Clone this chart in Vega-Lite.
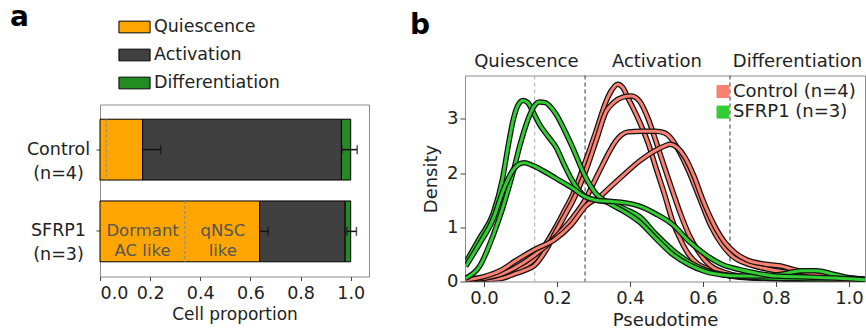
{
  "$schema": "https://vega.github.io/schema/vega-lite/v6.json",
  "padding": {"left": 10, "top": 3.5, "right": 0, "bottom": 0},
  "spacing": 39,
  "config": {
    "font": "DejaVu Sans",
    "view": {"stroke": "#8c8c8c", "strokeWidth": 1},
    "axis": {"grid": false, "domain": false, "tickColor": "#444", "tickSize": 4, "labelColor": "#222", "titleColor": "#222", "labelFontSize": 17.5, "titleFontSize": 17.5, "titleFontWeight": "normal", "labelFont": "DejaVu Sans", "titleFont": "DejaVu Sans"},
    "legend": {"labelFont": "DejaVu Sans", "labelColor": "#222"},
    "title": {"font": "DejaVu Sans"}
  },
  "resolve": {"scale": {"color": "independent"}, "legend": {"color": "independent"}},
  "datasets": {
    "bars": [
      {"group": "Control (n=4)", "stage": "Quiescence", "start": 0, "end": 0.17},
      {"group": "Control (n=4)", "stage": "Activation", "start": 0.17, "end": 0.963},
      {"group": "Control (n=4)", "stage": "Differentiation", "start": 0.963, "end": 1.0},
      {"group": "SFRP1 (n=3)", "stage": "Quiescence", "start": 0, "end": 0.637},
      {"group": "SFRP1 (n=3)", "stage": "Activation", "start": 0.637, "end": 0.978},
      {"group": "SFRP1 (n=3)", "stage": "Differentiation", "start": 0.978, "end": 1.0}
    ],
    "dashes": [
      {"group": "Control (n=4)", "x": 0.025},
      {"group": "SFRP1 (n=3)", "x": 0.338}
    ],
    "subtypes": [
      {"group": "SFRP1 (n=3)", "x": 0.17, "label": "Dormant\nAC like"},
      {"group": "SFRP1 (n=3)", "x": 0.49, "label": "qNSC\nlike"}
    ],
    "errs": [
      {"group": "Control (n=4)", "lo": 0.17, "hi": 0.242},
      {"group": "Control (n=4)", "lo": 0.965, "hi": 1.026},
      {"group": "SFRP1 (n=3)", "lo": 0.637, "hi": 0.671},
      {"group": "SFRP1 (n=3)", "lo": 0.985, "hi": 1.023}
    ],
    "caps": [
      {"group": "Control (n=4)", "x": 0.242},
      {"group": "Control (n=4)", "x": 0.965},
      {"group": "Control (n=4)", "x": 1.026},
      {"group": "SFRP1 (n=3)", "x": 0.671},
      {"group": "SFRP1 (n=3)", "x": 0.985},
      {"group": "SFRP1 (n=3)", "x": 1.023}
    ],
    "bounds": [
      {"kind": "sub", "x": 0.139},
      {"kind": "main", "x": 0.277},
      {"kind": "main", "x": 0.674}
    ],
    "sections": [
      {"label": "Quiescence", "x": 0.116},
      {"label": "Activation", "x": 0.474},
      {"label": "Differentiation", "x": 0.859}
    ],
    "curves": [
      {"c": "R1", "g": "Control (n=4)", "x": -0.05, "y": 0.02},
      {"c": "R1", "g": "Control (n=4)", "x": 0.0, "y": 0.04},
      {"c": "R1", "g": "Control (n=4)", "x": 0.05, "y": 0.09},
      {"c": "R1", "g": "Control (n=4)", "x": 0.084, "y": 0.18},
      {"c": "R1", "g": "Control (n=4)", "x": 0.11, "y": 0.27},
      {"c": "R1", "g": "Control (n=4)", "x": 0.139, "y": 0.42},
      {"c": "R1", "g": "Control (n=4)", "x": 0.17, "y": 0.7},
      {"c": "R1", "g": "Control (n=4)", "x": 0.198, "y": 1.02},
      {"c": "R1", "g": "Control (n=4)", "x": 0.22, "y": 1.3},
      {"c": "R1", "g": "Control (n=4)", "x": 0.243, "y": 1.6},
      {"c": "R1", "g": "Control (n=4)", "x": 0.275, "y": 2.16},
      {"c": "R1", "g": "Control (n=4)", "x": 0.307, "y": 2.77},
      {"c": "R1", "g": "Control (n=4)", "x": 0.335, "y": 3.33},
      {"c": "R1", "g": "Control (n=4)", "x": 0.35, "y": 3.53},
      {"c": "R1", "g": "Control (n=4)", "x": 0.366, "y": 3.64},
      {"c": "R1", "g": "Control (n=4)", "x": 0.38, "y": 3.58},
      {"c": "R1", "g": "Control (n=4)", "x": 0.395, "y": 3.38},
      {"c": "R1", "g": "Control (n=4)", "x": 0.41, "y": 3.18},
      {"c": "R1", "g": "Control (n=4)", "x": 0.426, "y": 2.95},
      {"c": "R1", "g": "Control (n=4)", "x": 0.45, "y": 2.55},
      {"c": "R1", "g": "Control (n=4)", "x": 0.471, "y": 2.1},
      {"c": "R1", "g": "Control (n=4)", "x": 0.495, "y": 1.6},
      {"c": "R1", "g": "Control (n=4)", "x": 0.517, "y": 1.11},
      {"c": "R1", "g": "Control (n=4)", "x": 0.54, "y": 0.75},
      {"c": "R1", "g": "Control (n=4)", "x": 0.562, "y": 0.49},
      {"c": "R1", "g": "Control (n=4)", "x": 0.585, "y": 0.33},
      {"c": "R1", "g": "Control (n=4)", "x": 0.608, "y": 0.25},
      {"c": "R1", "g": "Control (n=4)", "x": 0.654, "y": 0.13},
      {"c": "R1", "g": "Control (n=4)", "x": 0.7, "y": 0.08},
      {"c": "R1", "g": "Control (n=4)", "x": 0.8, "y": 0.05},
      {"c": "R1", "g": "Control (n=4)", "x": 0.9, "y": 0.03},
      {"c": "R1", "g": "Control (n=4)", "x": 1.0, "y": 0.02},
      {"c": "R1", "g": "Control (n=4)", "x": 1.044, "y": 0.01},
      {"c": "R2", "g": "Control (n=4)", "x": -0.05, "y": 0.01},
      {"c": "R2", "g": "Control (n=4)", "x": 0.0, "y": 0.03},
      {"c": "R2", "g": "Control (n=4)", "x": 0.05, "y": 0.06},
      {"c": "R2", "g": "Control (n=4)", "x": 0.084, "y": 0.14},
      {"c": "R2", "g": "Control (n=4)", "x": 0.11, "y": 0.2},
      {"c": "R2", "g": "Control (n=4)", "x": 0.139, "y": 0.3},
      {"c": "R2", "g": "Control (n=4)", "x": 0.17, "y": 0.58},
      {"c": "R2", "g": "Control (n=4)", "x": 0.198, "y": 0.93},
      {"c": "R2", "g": "Control (n=4)", "x": 0.22, "y": 1.2},
      {"c": "R2", "g": "Control (n=4)", "x": 0.243, "y": 1.48},
      {"c": "R2", "g": "Control (n=4)", "x": 0.275, "y": 1.97},
      {"c": "R2", "g": "Control (n=4)", "x": 0.307, "y": 2.59},
      {"c": "R2", "g": "Control (n=4)", "x": 0.335, "y": 3.14},
      {"c": "R2", "g": "Control (n=4)", "x": 0.355, "y": 3.3},
      {"c": "R2", "g": "Control (n=4)", "x": 0.38, "y": 3.4},
      {"c": "R2", "g": "Control (n=4)", "x": 0.403, "y": 3.42},
      {"c": "R2", "g": "Control (n=4)", "x": 0.426, "y": 3.33},
      {"c": "R2", "g": "Control (n=4)", "x": 0.45, "y": 3.0},
      {"c": "R2", "g": "Control (n=4)", "x": 0.471, "y": 2.59},
      {"c": "R2", "g": "Control (n=4)", "x": 0.495, "y": 2.1},
      {"c": "R2", "g": "Control (n=4)", "x": 0.517, "y": 1.66},
      {"c": "R2", "g": "Control (n=4)", "x": 0.54, "y": 1.22},
      {"c": "R2", "g": "Control (n=4)", "x": 0.562, "y": 0.86},
      {"c": "R2", "g": "Control (n=4)", "x": 0.585, "y": 0.58},
      {"c": "R2", "g": "Control (n=4)", "x": 0.608, "y": 0.37},
      {"c": "R2", "g": "Control (n=4)", "x": 0.63, "y": 0.25},
      {"c": "R2", "g": "Control (n=4)", "x": 0.654, "y": 0.18},
      {"c": "R2", "g": "Control (n=4)", "x": 0.7, "y": 0.1},
      {"c": "R2", "g": "Control (n=4)", "x": 0.77, "y": 0.06},
      {"c": "R2", "g": "Control (n=4)", "x": 0.85, "y": 0.04},
      {"c": "R2", "g": "Control (n=4)", "x": 1.0, "y": 0.02},
      {"c": "R2", "g": "Control (n=4)", "x": 1.044, "y": 0.01},
      {"c": "R3", "g": "Control (n=4)", "x": -0.05, "y": 0.02},
      {"c": "R3", "g": "Control (n=4)", "x": 0.0, "y": 0.06},
      {"c": "R3", "g": "Control (n=4)", "x": 0.05, "y": 0.14},
      {"c": "R3", "g": "Control (n=4)", "x": 0.084, "y": 0.25},
      {"c": "R3", "g": "Control (n=4)", "x": 0.139, "y": 0.49},
      {"c": "R3", "g": "Control (n=4)", "x": 0.193, "y": 0.8},
      {"c": "R3", "g": "Control (n=4)", "x": 0.24, "y": 1.15},
      {"c": "R3", "g": "Control (n=4)", "x": 0.275, "y": 1.48},
      {"c": "R3", "g": "Control (n=4)", "x": 0.31, "y": 1.95},
      {"c": "R3", "g": "Control (n=4)", "x": 0.344, "y": 2.4},
      {"c": "R3", "g": "Control (n=4)", "x": 0.36, "y": 2.58},
      {"c": "R3", "g": "Control (n=4)", "x": 0.376, "y": 2.7},
      {"c": "R3", "g": "Control (n=4)", "x": 0.395, "y": 2.76},
      {"c": "R3", "g": "Control (n=4)", "x": 0.43, "y": 2.77},
      {"c": "R3", "g": "Control (n=4)", "x": 0.47, "y": 2.77},
      {"c": "R3", "g": "Control (n=4)", "x": 0.495, "y": 2.74},
      {"c": "R3", "g": "Control (n=4)", "x": 0.515, "y": 2.62},
      {"c": "R3", "g": "Control (n=4)", "x": 0.535, "y": 2.4},
      {"c": "R3", "g": "Control (n=4)", "x": 0.56, "y": 2.05},
      {"c": "R3", "g": "Control (n=4)", "x": 0.59, "y": 1.55},
      {"c": "R3", "g": "Control (n=4)", "x": 0.62, "y": 1.05},
      {"c": "R3", "g": "Control (n=4)", "x": 0.65, "y": 0.7},
      {"c": "R3", "g": "Control (n=4)", "x": 0.68, "y": 0.47},
      {"c": "R3", "g": "Control (n=4)", "x": 0.72, "y": 0.33},
      {"c": "R3", "g": "Control (n=4)", "x": 0.77, "y": 0.24},
      {"c": "R3", "g": "Control (n=4)", "x": 0.84, "y": 0.16},
      {"c": "R3", "g": "Control (n=4)", "x": 0.9, "y": 0.11},
      {"c": "R3", "g": "Control (n=4)", "x": 1.0, "y": 0.06},
      {"c": "R3", "g": "Control (n=4)", "x": 1.044, "y": 0.04},
      {"c": "R4", "g": "Control (n=4)", "x": -0.05, "y": 0.03},
      {"c": "R4", "g": "Control (n=4)", "x": 0.0, "y": 0.09},
      {"c": "R4", "g": "Control (n=4)", "x": 0.05, "y": 0.22},
      {"c": "R4", "g": "Control (n=4)", "x": 0.084, "y": 0.37},
      {"c": "R4", "g": "Control (n=4)", "x": 0.139, "y": 0.59},
      {"c": "R4", "g": "Control (n=4)", "x": 0.193, "y": 0.77},
      {"c": "R4", "g": "Control (n=4)", "x": 0.24, "y": 1.05},
      {"c": "R4", "g": "Control (n=4)", "x": 0.28, "y": 1.4},
      {"c": "R4", "g": "Control (n=4)", "x": 0.32, "y": 1.58},
      {"c": "R4", "g": "Control (n=4)", "x": 0.344, "y": 1.73},
      {"c": "R4", "g": "Control (n=4)", "x": 0.38, "y": 1.95},
      {"c": "R4", "g": "Control (n=4)", "x": 0.426, "y": 2.22},
      {"c": "R4", "g": "Control (n=4)", "x": 0.47, "y": 2.42},
      {"c": "R4", "g": "Control (n=4)", "x": 0.495, "y": 2.5},
      {"c": "R4", "g": "Control (n=4)", "x": 0.51, "y": 2.53},
      {"c": "R4", "g": "Control (n=4)", "x": 0.53, "y": 2.47},
      {"c": "R4", "g": "Control (n=4)", "x": 0.55, "y": 2.3},
      {"c": "R4", "g": "Control (n=4)", "x": 0.575, "y": 1.95},
      {"c": "R4", "g": "Control (n=4)", "x": 0.6, "y": 1.5},
      {"c": "R4", "g": "Control (n=4)", "x": 0.63, "y": 1.05},
      {"c": "R4", "g": "Control (n=4)", "x": 0.66, "y": 0.72},
      {"c": "R4", "g": "Control (n=4)", "x": 0.69, "y": 0.52},
      {"c": "R4", "g": "Control (n=4)", "x": 0.72, "y": 0.4},
      {"c": "R4", "g": "Control (n=4)", "x": 0.77, "y": 0.32},
      {"c": "R4", "g": "Control (n=4)", "x": 0.81, "y": 0.29},
      {"c": "R4", "g": "Control (n=4)", "x": 0.85, "y": 0.22},
      {"c": "R4", "g": "Control (n=4)", "x": 0.9, "y": 0.14},
      {"c": "R4", "g": "Control (n=4)", "x": 0.95, "y": 0.1},
      {"c": "R4", "g": "Control (n=4)", "x": 1.0, "y": 0.07},
      {"c": "R4", "g": "Control (n=4)", "x": 1.044, "y": 0.04},
      {"c": "G1", "g": "SFRP1 (n=3)", "x": -0.05, "y": 0.35},
      {"c": "G1", "g": "SFRP1 (n=3)", "x": -0.012, "y": 0.8},
      {"c": "G1", "g": "SFRP1 (n=3)", "x": 0.025, "y": 1.25},
      {"c": "G1", "g": "SFRP1 (n=3)", "x": 0.051, "y": 1.9},
      {"c": "G1", "g": "SFRP1 (n=3)", "x": 0.065, "y": 2.45},
      {"c": "G1", "g": "SFRP1 (n=3)", "x": 0.079, "y": 2.95},
      {"c": "G1", "g": "SFRP1 (n=3)", "x": 0.093, "y": 3.25},
      {"c": "G1", "g": "SFRP1 (n=3)", "x": 0.107, "y": 3.34},
      {"c": "G1", "g": "SFRP1 (n=3)", "x": 0.12, "y": 3.3},
      {"c": "G1", "g": "SFRP1 (n=3)", "x": 0.135, "y": 3.12},
      {"c": "G1", "g": "SFRP1 (n=3)", "x": 0.152, "y": 2.9},
      {"c": "G1", "g": "SFRP1 (n=3)", "x": 0.175, "y": 2.68},
      {"c": "G1", "g": "SFRP1 (n=3)", "x": 0.198, "y": 2.47},
      {"c": "G1", "g": "SFRP1 (n=3)", "x": 0.22, "y": 2.15},
      {"c": "G1", "g": "SFRP1 (n=3)", "x": 0.243, "y": 1.85},
      {"c": "G1", "g": "SFRP1 (n=3)", "x": 0.275, "y": 1.58},
      {"c": "G1", "g": "SFRP1 (n=3)", "x": 0.307, "y": 1.5},
      {"c": "G1", "g": "SFRP1 (n=3)", "x": 0.344, "y": 1.46},
      {"c": "G1", "g": "SFRP1 (n=3)", "x": 0.389, "y": 1.33},
      {"c": "G1", "g": "SFRP1 (n=3)", "x": 0.426, "y": 1.2},
      {"c": "G1", "g": "SFRP1 (n=3)", "x": 0.47, "y": 0.88},
      {"c": "G1", "g": "SFRP1 (n=3)", "x": 0.517, "y": 0.58},
      {"c": "G1", "g": "SFRP1 (n=3)", "x": 0.562, "y": 0.36},
      {"c": "G1", "g": "SFRP1 (n=3)", "x": 0.608, "y": 0.21},
      {"c": "G1", "g": "SFRP1 (n=3)", "x": 0.654, "y": 0.13},
      {"c": "G1", "g": "SFRP1 (n=3)", "x": 0.7, "y": 0.09},
      {"c": "G1", "g": "SFRP1 (n=3)", "x": 0.8, "y": 0.06},
      {"c": "G1", "g": "SFRP1 (n=3)", "x": 0.9, "y": 0.05},
      {"c": "G1", "g": "SFRP1 (n=3)", "x": 1.0, "y": 0.03},
      {"c": "G1", "g": "SFRP1 (n=3)", "x": 1.044, "y": 0.02},
      {"c": "G2", "g": "SFRP1 (n=3)", "x": -0.05, "y": 0.06},
      {"c": "G2", "g": "SFRP1 (n=3)", "x": -0.012, "y": 0.28},
      {"c": "G2", "g": "SFRP1 (n=3)", "x": 0.025, "y": 0.85},
      {"c": "G2", "g": "SFRP1 (n=3)", "x": 0.051, "y": 1.35},
      {"c": "G2", "g": "SFRP1 (n=3)", "x": 0.079, "y": 2.0},
      {"c": "G2", "g": "SFRP1 (n=3)", "x": 0.1, "y": 2.55},
      {"c": "G2", "g": "SFRP1 (n=3)", "x": 0.12, "y": 2.98},
      {"c": "G2", "g": "SFRP1 (n=3)", "x": 0.136, "y": 3.22},
      {"c": "G2", "g": "SFRP1 (n=3)", "x": 0.152, "y": 3.31},
      {"c": "G2", "g": "SFRP1 (n=3)", "x": 0.168, "y": 3.3},
      {"c": "G2", "g": "SFRP1 (n=3)", "x": 0.185, "y": 3.2},
      {"c": "G2", "g": "SFRP1 (n=3)", "x": 0.198, "y": 3.08},
      {"c": "G2", "g": "SFRP1 (n=3)", "x": 0.22, "y": 2.8},
      {"c": "G2", "g": "SFRP1 (n=3)", "x": 0.243, "y": 2.47},
      {"c": "G2", "g": "SFRP1 (n=3)", "x": 0.275, "y": 1.97},
      {"c": "G2", "g": "SFRP1 (n=3)", "x": 0.307, "y": 1.62},
      {"c": "G2", "g": "SFRP1 (n=3)", "x": 0.344, "y": 1.44},
      {"c": "G2", "g": "SFRP1 (n=3)", "x": 0.389, "y": 1.27},
      {"c": "G2", "g": "SFRP1 (n=3)", "x": 0.426, "y": 1.1},
      {"c": "G2", "g": "SFRP1 (n=3)", "x": 0.47, "y": 0.8},
      {"c": "G2", "g": "SFRP1 (n=3)", "x": 0.517, "y": 0.5},
      {"c": "G2", "g": "SFRP1 (n=3)", "x": 0.562, "y": 0.31},
      {"c": "G2", "g": "SFRP1 (n=3)", "x": 0.608, "y": 0.18},
      {"c": "G2", "g": "SFRP1 (n=3)", "x": 0.654, "y": 0.12},
      {"c": "G2", "g": "SFRP1 (n=3)", "x": 0.7, "y": 0.1},
      {"c": "G2", "g": "SFRP1 (n=3)", "x": 0.76, "y": 0.1},
      {"c": "G2", "g": "SFRP1 (n=3)", "x": 0.82, "y": 0.14},
      {"c": "G2", "g": "SFRP1 (n=3)", "x": 0.87, "y": 0.2},
      {"c": "G2", "g": "SFRP1 (n=3)", "x": 0.91, "y": 0.2},
      {"c": "G2", "g": "SFRP1 (n=3)", "x": 0.96, "y": 0.13},
      {"c": "G2", "g": "SFRP1 (n=3)", "x": 1.0, "y": 0.07},
      {"c": "G2", "g": "SFRP1 (n=3)", "x": 1.044, "y": 0.03},
      {"c": "G3", "g": "SFRP1 (n=3)", "x": -0.05, "y": 0.28},
      {"c": "G3", "g": "SFRP1 (n=3)", "x": -0.012, "y": 0.7},
      {"c": "G3", "g": "SFRP1 (n=3)", "x": 0.025, "y": 1.15},
      {"c": "G3", "g": "SFRP1 (n=3)", "x": 0.051, "y": 1.65},
      {"c": "G3", "g": "SFRP1 (n=3)", "x": 0.079, "y": 2.05},
      {"c": "G3", "g": "SFRP1 (n=3)", "x": 0.095, "y": 2.16},
      {"c": "G3", "g": "SFRP1 (n=3)", "x": 0.111, "y": 2.19},
      {"c": "G3", "g": "SFRP1 (n=3)", "x": 0.13, "y": 2.15},
      {"c": "G3", "g": "SFRP1 (n=3)", "x": 0.152, "y": 2.08},
      {"c": "G3", "g": "SFRP1 (n=3)", "x": 0.198, "y": 1.9},
      {"c": "G3", "g": "SFRP1 (n=3)", "x": 0.243, "y": 1.72},
      {"c": "G3", "g": "SFRP1 (n=3)", "x": 0.275, "y": 1.57},
      {"c": "G3", "g": "SFRP1 (n=3)", "x": 0.307, "y": 1.5},
      {"c": "G3", "g": "SFRP1 (n=3)", "x": 0.344, "y": 1.48},
      {"c": "G3", "g": "SFRP1 (n=3)", "x": 0.389, "y": 1.45},
      {"c": "G3", "g": "SFRP1 (n=3)", "x": 0.426, "y": 1.39},
      {"c": "G3", "g": "SFRP1 (n=3)", "x": 0.47, "y": 1.25},
      {"c": "G3", "g": "SFRP1 (n=3)", "x": 0.517, "y": 1.05},
      {"c": "G3", "g": "SFRP1 (n=3)", "x": 0.562, "y": 0.74},
      {"c": "G3", "g": "SFRP1 (n=3)", "x": 0.608, "y": 0.49},
      {"c": "G3", "g": "SFRP1 (n=3)", "x": 0.654, "y": 0.31},
      {"c": "G3", "g": "SFRP1 (n=3)", "x": 0.7, "y": 0.22},
      {"c": "G3", "g": "SFRP1 (n=3)", "x": 0.75, "y": 0.15},
      {"c": "G3", "g": "SFRP1 (n=3)", "x": 0.8, "y": 0.1},
      {"c": "G3", "g": "SFRP1 (n=3)", "x": 0.9, "y": 0.08},
      {"c": "G3", "g": "SFRP1 (n=3)", "x": 1.0, "y": 0.05},
      {"c": "G3", "g": "SFRP1 (n=3)", "x": 1.044, "y": 0.03}
    ]
  },
  "hconcat": [
    {
      "spacing": 8,
      "resolve": {"scale": {"color": "independent"}, "legend": {"color": "independent"}},
      "vconcat": [
        {
          "width": 269,
          "height": 20,
          "view": {"stroke": null},
          "title": {"text": "a", "anchor": "start", "frame": "group", "dx": -90, "offset": -39.5, "baseline": "alphabetic", "fontSize": 28, "fontWeight": "bold", "color": "#000"},
          "data": {"name": "bars"},
          "mark": {"type": "bar", "opacity": 0},
          "encoding": {
            "x": {"field": "start", "type": "quantitative", "scale": {"domain": [0, 1.073], "nice": false, "zero": false}, "axis": null},
            "x2": {"field": "end"},
            "color": {"field": "stage", "type": "nominal", "scale": {"domain": ["Quiescence", "Activation", "Differentiation"], "range": ["#FFA500", "#404040", "#228B22"]}, "legend": {"title": null, "orient": "none", "legendX": 22, "legendY": -61, "direction": "vertical", "symbolType": "M-1.33,-0.5H1.33V0.5H-1.33Z", "symbolSize": 548, "symbolStrokeColor": "black", "symbolStrokeWidth": 1, "symbolOpacity": 1, "labelFontSize": 17.5, "labelOffset": 7, "rowPadding": 7, "labelColor": "#222", "encode": {"symbols": {"update": {"opacity": {"value": 1}, "fillOpacity": {"value": 1}, "strokeOpacity": {"value": 1}}}}}}
          }
        },
        {
          "width": 269,
          "height": 172,
          "layer": [
            {
              "data": {"name": "bars"},
              "mark": {"type": "bar", "stroke": "black", "strokeWidth": 1},
              "encoding": {
                "y": {"field": "group", "type": "nominal", "scale": {"domain": ["Control (n=4)", "SFRP1 (n=3)"], "paddingInner": 0.256, "paddingOuter": 0.18}, "axis": {"title": null, "labelExpr": "split(datum.label, ' ')", "labelAlign": "center", "labelPadding": 38, "labelLineHeight": 24, "labelBaseline": "middle", "labelFontSize": 17.5}},
                "x": {"field": "start", "type": "quantitative", "scale": {"domain": [0, 1.073], "nice": false, "zero": false}, "axis": {"title": "Cell proportion", "values": [0, 0.2, 0.4, 0.6, 0.8, 1.0], "format": ".1f", "titleFontSize": 17, "labelPadding": 4, "titlePadding": 4}},
                "x2": {"field": "end"},
                "color": {"field": "stage", "type": "nominal", "scale": {"domain": ["Quiescence", "Activation", "Differentiation"], "range": ["#FFA500", "#404040", "#228B22"]}, "legend": null}
              }
            },
            {
              "data": {"name": "dashes"},
              "mark": {"type": "rule", "strokeDash": [3, 2], "color": "#8a8a8a", "strokeWidth": 1},
              "encoding": {
                "x": {"field": "x", "type": "quantitative"},
                "y": {"field": "group", "type": "nominal", "bandPosition": 0},
                "y2": {"field": "group", "bandPosition": 1}
              }
            },
            {
              "data": {"name": "subtypes"},
              "mark": {"type": "text", "lineBreak": "\n", "fontSize": 16.5, "color": "#555555", "align": "center", "baseline": "middle", "lineHeight": 20},
              "encoding": {
                "x": {"field": "x", "type": "quantitative"},
                "y": {"field": "group", "type": "nominal"},
                "text": {"field": "label"}
              }
            },
            {
              "data": {"name": "errs"},
              "mark": {"type": "rule", "color": "#111", "strokeWidth": 1.5},
              "encoding": {
                "x": {"field": "lo", "type": "quantitative"},
                "x2": {"field": "hi"},
                "y": {"field": "group", "type": "nominal"}
              }
            },
            {
              "data": {"name": "caps"},
              "mark": {"type": "tick", "orient": "vertical", "color": "#111", "thickness": 1.5, "size": 9},
              "encoding": {
                "x": {"field": "x", "type": "quantitative"},
                "y": {"field": "group", "type": "nominal"}
              }
            }
          ]
        }
      ]
    },
    {
      "width": 400,
      "height": 206,
      "title": {"text": "b", "anchor": "start", "frame": "group", "dx": -55, "offset": -8.5, "baseline": "alphabetic", "fontSize": 28, "fontWeight": "bold", "color": "#000"},
      "data": {"name": "curves"},
      "layer": [
        {
          "data": {"name": "bounds"},
          "transform": [{"filter": "datum.kind == 'sub'"}],
          "mark": {"type": "rule", "strokeDash": [4, 3], "color": "#aaaaaa", "strokeWidth": 1},
          "encoding": {
            "x": {"field": "x", "type": "quantitative", "scale": {"domain": [-0.052, 1.044], "nice": false, "zero": false}, "axis": {"title": "Pseudotime", "values": [0, 0.2, 0.4, 0.6, 0.8, 1.0], "format": ".1f", "labelFontSize": 18, "titleFontSize": 18, "tickSize": 5, "labelPadding": 3, "titlePadding": 4}}
          }
        },
        {
          "data": {"name": "bounds"},
          "transform": [{"filter": "datum.kind == 'main'"}],
          "mark": {"type": "rule", "strokeDash": [4, 3], "color": "#555555", "strokeWidth": 1.2},
          "encoding": {"x": {"field": "x", "type": "quantitative"}}
        },
        {
          "transform": [{"filter": "datum.c == 'R1'"}],
          "encoding": {
            "x": {"field": "x", "type": "quantitative"},
            "y": {"field": "y", "type": "quantitative", "scale": {"domain": [0, 3.8], "nice": false}, "axis": {"title": "Density", "values": [0, 1, 2, 3], "format": "d", "labelFontSize": 18, "titleFontSize": 18, "tickSize": 5, "titlePadding": 6}}
          },
          "layer": [
            {"mark": {"type": "line", "color": "#111", "strokeWidth": 5.5, "interpolate": "monotone", "clip": true}},
            {"mark": {"type": "line", "strokeWidth": 3, "interpolate": "monotone", "clip": true}, "encoding": {"color": {"field": "g", "type": "nominal", "scale": {"domain": ["Control (n=4)", "SFRP1 (n=3)"], "range": ["#FA8072", "#32CD32"]}, "legend": {"title": null, "orient": "none", "legendX": 249, "legendY": 7, "symbolType": "square", "symbolSize": 144, "labelFontSize": 18, "labelOffset": 1, "rowPadding": 2.6, "labelColor": "#222", "encode": {"symbols": {"update": {"fill": {"signal": "datum.value == 'Control (n=4)' ? '#FA8072' : '#32CD32'"}, "fillOpacity": {"value": 1}, "opacity": {"value": 1}, "stroke": {"value": "#333"}, "strokeWidth": {"value": 1}}}}}}}}
          ]
        },
        {
          "transform": [{"filter": "datum.c == 'R2'"}],
          "encoding": {"x": {"field": "x", "type": "quantitative"}, "y": {"field": "y", "type": "quantitative"}},
          "layer": [
            {"mark": {"type": "line", "color": "#111", "strokeWidth": 5.5, "interpolate": "monotone", "clip": true}},
            {"mark": {"type": "line", "strokeWidth": 3, "interpolate": "monotone", "clip": true}, "encoding": {"color": {"field": "g", "type": "nominal"}}}
          ]
        },
        {
          "transform": [{"filter": "datum.c == 'R3'"}],
          "encoding": {"x": {"field": "x", "type": "quantitative"}, "y": {"field": "y", "type": "quantitative"}},
          "layer": [
            {"mark": {"type": "line", "color": "#111", "strokeWidth": 5.5, "interpolate": "monotone", "clip": true}},
            {"mark": {"type": "line", "strokeWidth": 3, "interpolate": "monotone", "clip": true}, "encoding": {"color": {"field": "g", "type": "nominal"}}}
          ]
        },
        {
          "transform": [{"filter": "datum.c == 'R4'"}],
          "encoding": {"x": {"field": "x", "type": "quantitative"}, "y": {"field": "y", "type": "quantitative"}},
          "layer": [
            {"mark": {"type": "line", "color": "#111", "strokeWidth": 5.5, "interpolate": "monotone", "clip": true}},
            {"mark": {"type": "line", "strokeWidth": 3, "interpolate": "monotone", "clip": true}, "encoding": {"color": {"field": "g", "type": "nominal"}}}
          ]
        },
        {
          "transform": [{"filter": "datum.c == 'G1'"}],
          "encoding": {"x": {"field": "x", "type": "quantitative"}, "y": {"field": "y", "type": "quantitative"}},
          "layer": [
            {"mark": {"type": "line", "color": "#111", "strokeWidth": 5.5, "interpolate": "monotone", "clip": true}},
            {"mark": {"type": "line", "strokeWidth": 3, "interpolate": "monotone", "clip": true}, "encoding": {"color": {"field": "g", "type": "nominal"}}}
          ]
        },
        {
          "transform": [{"filter": "datum.c == 'G2'"}],
          "encoding": {"x": {"field": "x", "type": "quantitative"}, "y": {"field": "y", "type": "quantitative"}},
          "layer": [
            {"mark": {"type": "line", "color": "#111", "strokeWidth": 5.5, "interpolate": "monotone", "clip": true}},
            {"mark": {"type": "line", "strokeWidth": 3, "interpolate": "monotone", "clip": true}, "encoding": {"color": {"field": "g", "type": "nominal"}}}
          ]
        },
        {
          "transform": [{"filter": "datum.c == 'G3'"}],
          "encoding": {"x": {"field": "x", "type": "quantitative"}, "y": {"field": "y", "type": "quantitative"}},
          "layer": [
            {"mark": {"type": "line", "color": "#111", "strokeWidth": 5.5, "interpolate": "monotone", "clip": true}},
            {"mark": {"type": "line", "strokeWidth": 3, "interpolate": "monotone", "clip": true}, "encoding": {"color": {"field": "g", "type": "nominal"}}}
          ]
        },
        {
          "data": {"name": "sections"},
          "mark": {"type": "text", "fontSize": 18, "color": "#222", "align": "center", "baseline": "alphabetic"},
          "encoding": {
            "x": {"field": "x", "type": "quantitative"},
            "y": {"datum": 3.95},
            "text": {"field": "label"}
          }
        }
      ]
    }
  ]
}
